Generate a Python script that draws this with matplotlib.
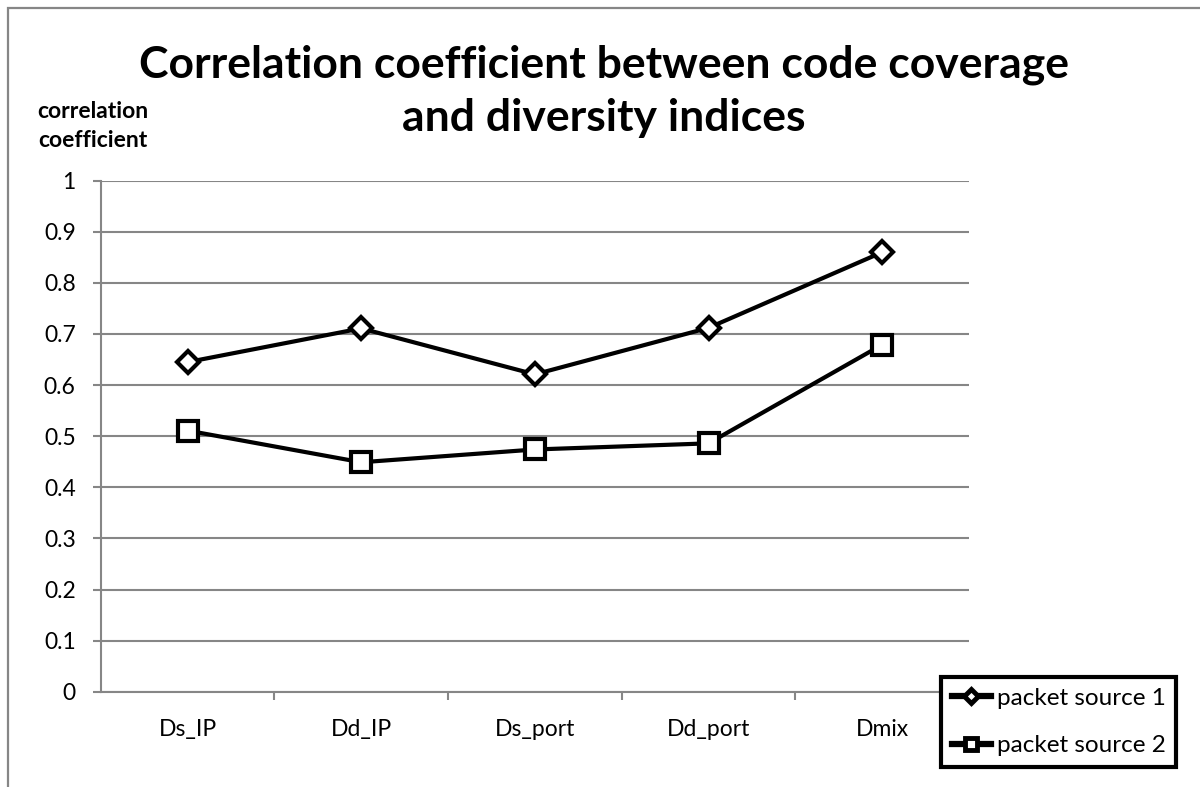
import matplotlib.pyplot as plt
from matplotlib.patches import Rectangle

categories = ["Ds_IP", "Dd_IP", "Ds_port", "Dd_port", "Dmix"]
source1 = [0.645, 0.711, 0.621, 0.712, 0.860]
source2 = [0.511, 0.449, 0.474, 0.486, 0.679]
y_ticks = [0, 0.1, 0.2, 0.3, 0.4, 0.5, 0.6, 0.7, 0.8, 0.9, 1]
y_tick_labels = ["0", "0.1", "0.2", "0.3", "0.4", "0.5", "0.6", "0.7", "0.8", "0.9", "1"]

W, H = 1200, 787
plt.rcParams['font.family'] = ['Lato', 'DejaVu Sans']
grey = '#868686'

fig = plt.figure(figsize=(W / 100, H / 100), dpi=100)
ax = fig.add_axes([100.7 / W, 1 - 691.7 / H, (969 - 100.7) / W, (691.7 - 180.7) / H])

x = list(range(len(categories)))
ax.plot(x, source1, color='black', lw=3, marker='D', ms=11, mew=3,
        mfc='white', mec='black', label='packet source 1', zorder=3)
ax.plot(x, source2, color='black', lw=3, marker='s', ms=14, mew=3,
        mfc='white', mec='black', label='packet source 2', zorder=3)

ax.set_xlim(-0.5, len(categories) - 0.5)
ax.set_ylim(0, 1)
ax.set_yticks(y_ticks)
ax.set_yticklabels(y_tick_labels)
ax.set_xticks(x)
ax.set_xticklabels(categories)
ax.set_xticks([i + 0.5 for i in x[:-1]], minor=True)

ax.grid(axis='y', color=grey, lw=1.5)
ax.set_axisbelow(True)
for side in ['top', 'right']:
    ax.spines[side].set_visible(False)
for side in ['left', 'bottom']:
    ax.spines[side].set_color(grey)
    ax.spines[side].set_linewidth(1.5)

ax.tick_params(axis='y', length=6, width=1.5, color=grey, pad=12, labelsize=16.5)
ax.tick_params(axis='x', which='major', length=0, pad=20, labelsize=16.5)
ax.tick_params(axis='x', which='minor', length=6, width=1.5, color=grey)

# chart border (runs off the right and bottom edges)
fig.patches.append(Rectangle((8 / W, -0.1), 1.2, (H - 8) / H + 0.1, fill=False,
                             edgecolor=grey, lw=1.6, transform=fig.transFigure))

fig.text(604 / W, 1 - 91 / H, "Correlation coefficient between code coverage\nand diversity indices",
         ha='center', va='center', fontsize=32, fontweight='bold', linespacing=1.4)
fig.text(93 / W, 1 - 126 / H, "correlation\ncoefficient", ha='center', va='center',
         fontsize=16.5, fontweight='bold', linespacing=1.45)

leg = fig.legend(loc='upper left', bbox_to_anchor=(940.7 / W, 1 - 676.7 / H),
                 fontsize=17.5, markerscale=0.65, handlelength=1.6, handletextpad=0.25,
                 labelspacing=1.1, borderpad=0.45, fancybox=False, framealpha=1,
                 borderaxespad=0)
leg.get_frame().set_edgecolor('black')
leg.get_frame().set_linewidth(3)
for h in leg.legend_handles:
    h.set_linewidth(4.5)
    h.set_markeredgewidth(3.5)

fig.savefig('out.png', dpi=100)
